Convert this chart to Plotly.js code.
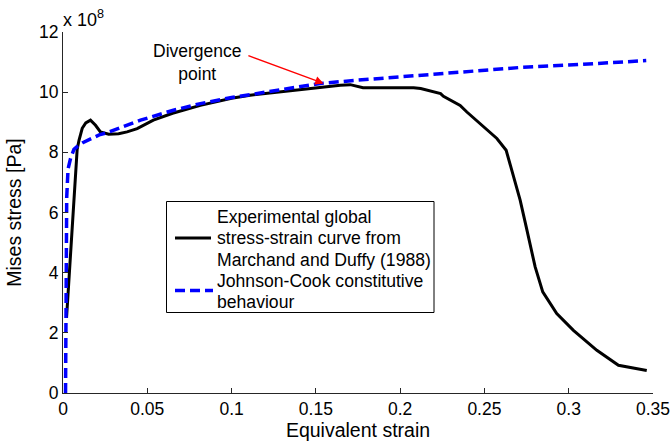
<!DOCTYPE html>
<html>
<head>
<meta charset="utf-8">
<script src="https://cdn.plot.ly/plotly-3.0.1.min.js"></script>
<style>
html,body{margin:0;padding:0;background:#fff;}
#chart{width:670px;height:441px;}
</style>
</head>
<body>
<div id="chart"></div>
<script>
// Stress values are in units of 1e8 Pa (axis shows "x 10^8")
const expStrain = [0.0021, 0.0033, 0.005, 0.0062, 0.0074, 0.0084, 0.0095, 0.0114, 0.0135, 0.0163, 0.0193, 0.0222, 0.0271, 0.033, 0.038, 0.044, 0.0536, 0.065, 0.0815, 0.1, 0.111, 0.1408, 0.1645, 0.1704, 0.178, 0.2, 0.208, 0.2122, 0.224, 0.2257, 0.2356, 0.2396, 0.2494, 0.2574, 0.2629, 0.2672, 0.2712, 0.2748, 0.2771, 0.2801, 0.2846, 0.2929, 0.3028, 0.3167, 0.3295, 0.3463];
const expStress = [2.5, 3.6, 5.3, 6.3, 7.3, 8.1, 8.4, 8.8, 8.98, 9.07, 8.9, 8.68, 8.6, 8.62, 8.68, 8.79, 9.07, 9.3, 9.56, 9.8, 9.9, 10.09, 10.23, 10.25, 10.15, 10.15, 10.15, 10.12, 9.95, 9.86, 9.56, 9.34, 8.84, 8.46, 8.07, 7.18, 6.41, 5.52, 4.97, 4.19, 3.36, 2.64, 2.08, 1.42, 0.92, 0.75];

const jcStrain = [0.0015, 0.0017, 0.0022, 0.003, 0.0045, 0.0065, 0.0085, 0.012, 0.0165, 0.0215, 0.026, 0.035, 0.046, 0.0655, 0.0815, 0.1, 0.125, 0.1526, 0.175, 0.2, 0.2356, 0.271, 0.3, 0.346];
const jcStress = [0, 3.0, 6.5, 7.45, 7.8, 8.1, 8.2, 8.33, 8.46, 8.58, 8.65, 8.85, 9.07, 9.4, 9.62, 9.82, 10.05, 10.29, 10.4, 10.51, 10.67, 10.82, 10.9, 11.05];

const expLegendLines = ["Experimental global", "stress-strain curve from", "Marchand and Duffy (1988)"];
const jcLegendLines = ["Johnson-Cook constitutive", "behaviour"];
const seriesNames = ["Experimental global stress-strain curve from Marchand and Duffy (1988)", "Johnson-Cook constitutive behaviour"];

const xTicks = [0, 0.05, 0.1, 0.15, 0.2, 0.25, 0.3, 0.35];
const xTickText = ["0", "0.05", "0.1", "0.15", "0.2", "0.25", "0.3", "0.35"];
const yTicks = [0, 2, 4, 6, 8, 10, 12];
const yTickText = ["0", "2", "4", "6", "8", "10", "12"];

const font = "Liberation Sans, Arial, sans-serif";
const black = "#000000", blue = "#0000ff";

const traces = [
  {x: expStrain, y: expStress, type: "scatter", mode: "lines", name: seriesNames[0],
   line: {color: black, width: 3}, showlegend: false},
  {x: jcStrain, y: jcStress, type: "scatter", mode: "lines", name: seriesNames[1],
   line: {color: blue, width: 3.5, dash: "10px,5px"}, showlegend: false}
];

const axisCommon = {
  showline: true, linecolor: "#262626", linewidth: 1,
  ticks: "inside", ticklen: 5, tickcolor: "#262626", tickwidth: 1,
  showgrid: false, zeroline: false, mirror: false,
  ticklabeloverflow: "allow",
  tickfont: {family: font, size: 17.5, color: "#000"}
};

// plot-area geometry helpers for the hand-built legend (paper coordinates)
const L = 63, R = 17, T = 32, B = 48, W = 670 - L - R, H = 441 - T - B;
const px = v => (v - L) / W;
const py = v => (441 - B - v) / H;

const legendShapes = [
  {type: "rect", xref: "paper", yref: "paper", x0: px(166.5), x1: px(434), y0: py(312.5), y1: py(201.5),
   line: {color: black, width: 1}, fillcolor: "#fff", layer: "above"},
  {type: "line", xref: "paper", yref: "paper", x0: px(175), x1: px(211), y0: py(238), y1: py(238),
   line: {color: black, width: 3}, layer: "above"},
  {type: "line", xref: "paper", yref: "paper", x0: px(175), x1: px(213), y0: py(290.5), y1: py(290.5),
   line: {color: blue, width: 3.5, dash: "10px,5px"}, layer: "above"}
];

const legendLineY = [217, 238.2, 259.5, 281, 302];
const legendTexts = expLegendLines.concat(jcLegendLines).map((t, i) => ({
  xref: "paper", yref: "paper", x: px(215), y: py(legendLineY[i]),
  xanchor: "left", yanchor: "middle", text: t, showarrow: false,
  font: {family: font, size: 17.6, color: "#000"}
}));

const layout = {
  width: 670, height: 441,
  margin: {l: L, r: R, t: T, b: B},
  paper_bgcolor: "#fff", plot_bgcolor: "#fff",
  font: {family: font, color: "#000"},
  xaxis: Object.assign({}, axisCommon, {
    range: [0, 0.35001], tickvals: xTicks, ticktext: xTickText,
    title: {text: "Equivalent strain", font: {family: font, size: 19.5}, standoff: 1}
  }),
  yaxis: Object.assign({}, axisCommon, {
    range: [0, 12], tickvals: yTicks, ticktext: yTickText,
    title: {text: "Mises stress [Pa]", font: {family: font, size: 19.5}, standoff: 12}
  }),
  showlegend: false,
  shapes: legendShapes,
  annotations: [
    {xref: "paper", yref: "paper", x: -0.003, y: 1.0, xanchor: "left", yanchor: "bottom",
     text: "x 10<sup>8</sup>", showarrow: false, font: {family: font, size: 18}},
    {xref: "x", yref: "y", x: 0.0797, y: 11.0, text: "Divergence<br>point",
     showarrow: false, font: {family: font, size: 17.5}},
    {xref: "x", yref: "y", x: 0.1546, y: 10.29, axref: "x", ayref: "y", ax: 0.1082, ay: 11.25,
     text: " ", showarrow: true, arrowhead: 2, arrowsize: 1.2, arrowwidth: 1.4,
     arrowcolor: "#ff0000", standoff: 0, startstandoff: 0}
  ].concat(legendTexts)
};

Plotly.newPlot("chart", traces, layout, {displayModeBar: false, staticPlot: true});
</script>
</body>
</html>
